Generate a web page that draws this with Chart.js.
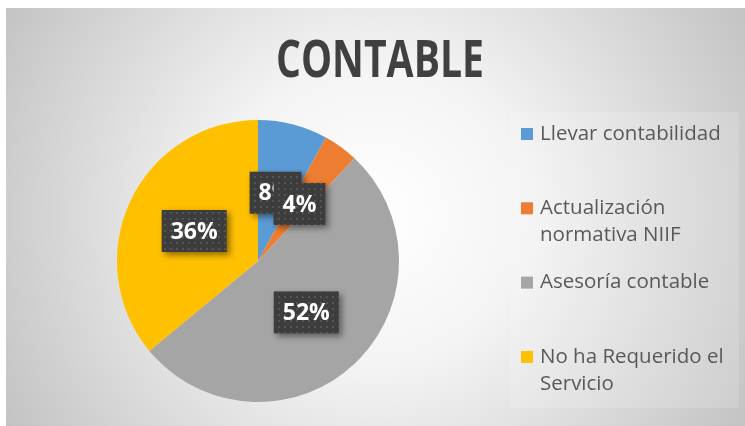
<!DOCTYPE html>
<html>
<head>
<meta charset="utf-8">
<script src="https://cdn.jsdelivr.net/npm/chart.js@4.4.1/dist/chart.umd.min.js"></script>
<style>
  html, body { margin: 0; padding: 0; background: #fff; }
  #wrap { width: 745px; height: 426px; }
</style>
</head>
<body>
<div id="wrap"><canvas id="chart" width="745" height="426"></canvas></div>
<script>
const title = 'CONTABLE';
const categories = ['Llevar contabilidad', 'Actualización normativa NIIF', 'Asesoría contable', 'No ha Requerido el Servicio'];
const values = [8, 4, 52, 36];
const sliceColors = ['#5B9BD5', '#ED7D31', '#A5A5A5', '#FFC000'];

// dotted dark fill used behind the percentage labels
function dotPattern(ctx) {
  const c = document.createElement('canvas');
  c.width = 6; c.height = 6;
  const p = c.getContext('2d');
  p.fillStyle = '#3d3d3d';
  p.fillRect(0, 0, 6, 6);
  p.fillStyle = '#545454';
  p.fillRect(2, 2, 2, 2);
  return ctx.createPattern(c, 'repeat');
}

const background = {
  id: 'background',
  beforeDraw(chart) {
    const ctx = chart.ctx;
    ctx.save();
    ctx.fillStyle = '#fff';
    ctx.fillRect(0, 0, chart.width, chart.height);
    const g = ctx.createRadialGradient(375, 215, 0, 375, 215, 425);
    g.addColorStop(0, '#ffffff');
    g.addColorStop(0.35, '#f4f4f4');
    g.addColorStop(1, '#c3c3c3');
    ctx.fillStyle = g;
    ctx.fillRect(6, 8, chart.width - 6, chart.height - 8);
    // soft legend panel
    ctx.fillStyle = 'rgba(255,255,255,0.15)';
    ctx.fillRect(510, 112, 229, 296);
    // title
    ctx.fillStyle = '#404040';
    ctx.font = 'bold 52px "Open Sans"';
    ctx.textAlign = 'center';
    ctx.textBaseline = 'alphabetic';
    ctx.fillText(title, 380, 77, 208);
    ctx.restore();
  }
};

const sideLegend = {
  id: 'sideLegend',
  afterDraw(chart) {
    const ctx = chart.ctx;
    ctx.save();
    ctx.font = '20.5px "Open Sans"';
    ctx.textBaseline = 'middle';
    ctx.textAlign = 'left';
    chart.data.labels.forEach((label, i) => {
      const y0 = 134 + i * 74.3;
      ctx.fillStyle = chart.data.datasets[0].backgroundColor[i];
      ctx.fillRect(521, y0 - 6, 12, 12);
      // wrap words into lines
      const words = label.split(' ');
      const lines = [];
      let line = '';
      words.forEach(w => {
        const t = line ? line + ' ' + w : w;
        if (ctx.measureText(t).width > 200 && line) { lines.push(line); line = w; }
        else line = t;
      });
      lines.push(line);
      ctx.fillStyle = '#595959';
      lines.forEach((l, k) => ctx.fillText(l, 540, y0 + k * 27));
    });
    ctx.restore();
  }
};

const sliceLabels = {
  id: 'sliceLabels',
  afterDatasetsDraw(chart) {
    const ctx = chart.ctx;
    const meta = chart.getDatasetMeta(0);
    const total = values.reduce((a, b) => a + b, 0);
    const fill = dotPattern(ctx);
    ctx.save();
    ctx.font = 'bold 23px "Open Sans"';
    ctx.textAlign = 'center';
    ctx.textBaseline = 'middle';
    meta.data.forEach((arc, i) => {
      const pos = arc.tooltipPosition();
      const text = Math.round(values[i] / total * 100) + '%';
      const w = ctx.measureText(text).width + 18;
      const h = 42;
      ctx.save();
      ctx.shadowColor = 'rgba(0,0,0,0.45)';
      ctx.shadowBlur = 6;
      ctx.shadowOffsetX = 3;
      ctx.shadowOffsetY = 3;
      ctx.fillStyle = fill;
      ctx.fillRect(pos.x - w / 2, pos.y - h / 2, w, h);
      ctx.restore();
      ctx.fillStyle = '#ffffff';
      ctx.fillText(text, pos.x, pos.y + 1);
    });
    ctx.restore();
  }
};

new Chart(document.getElementById('chart'), {
  type: 'pie',
  data: {
    labels: categories,
    datasets: [{
      data: values,
      backgroundColor: sliceColors,
      borderWidth: 0
    }]
  },
  options: {
    responsive: false,
    animation: false,
    layout: { padding: { left: 117, right: 346, top: 120, bottom: 24 } },
    plugins: {
      legend: { display: false },
      tooltip: { enabled: false },
      title: { display: false }
    }
  },
  plugins: [background, sliceLabels, sideLegend]
});
</script>
</body>
</html>
